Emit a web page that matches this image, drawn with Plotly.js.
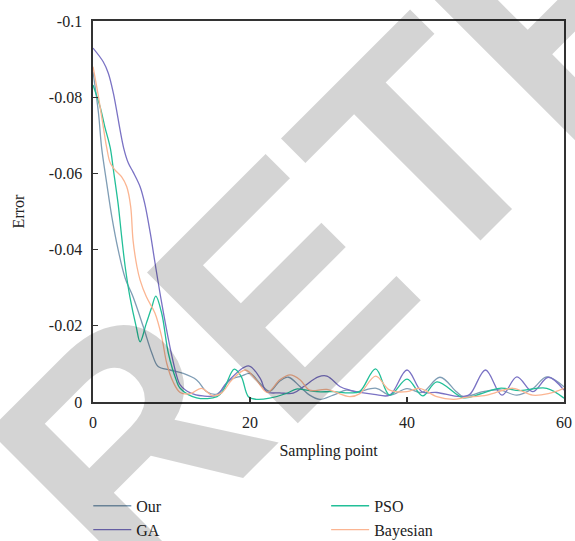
<!DOCTYPE html>
<html>
<head>
<meta charset="utf-8">
<script src="https://cdn.plot.ly/plotly-3.0.1.min.js"></script>
<style>html,body{margin:0;padding:0;background:#fff}#chart{width:575px;height:541px}</style>
</head>
<body>
<div id="chart"></div>
<script>
// Our
const ourX = [0, 0.7, 1.1, 1.75, 2.4, 3.2, 4.1, 5.1, 6.4, 7.5, 8.3, 9.8, 11.5, 13.2, 14.5, 15.8, 17.5, 18.9, 20, 21.3, 22.5, 23.8, 24.9, 26.4, 27.6, 28.9, 30.6, 32.3, 33.6, 36.1, 37.8, 40, 41.9, 44.2, 46.3, 47.2, 49.7, 51.8, 54, 56, 57.8, 60];
const ourY = [-0.0867, -0.0758, -0.0667, -0.0574, -0.0486, -0.040, -0.0325, -0.0276, -0.0198, -0.0128, -0.0093, -0.0084, -0.0075, -0.0058, -0.0027, -0.0021, -0.0058, -0.0068, -0.0075, -0.0048, -0.0028, -0.0055, -0.0065, -0.0040, -0.0018, -0.0007, -0.0018, -0.0031, -0.0027, -0.0036, -0.0018, -0.0035, -0.0025, -0.0065, -0.0027, -0.0014, -0.0027, -0.0032, -0.0018, -0.0035, -0.0066, -0.0040];
// GA
const gaX = [0, 1.3, 1.95, 2.6, 3.9, 4.5, 5.1, 6.0, 6.6, 7.3, 7.9, 8.75, 9.8, 10.7, 11.1, 12.4, 14, 15.8, 17, 19.8, 21.3, 22.1, 23.8, 25.5, 26.8, 28.7, 29.8, 31.5, 32.7, 34, 35.8, 37.8, 40, 41.9, 43.8, 46.8, 48, 50, 52.1, 54, 56, 58, 60];
const gaY = [-0.0929, -0.0893, -0.0863, -0.0810, -0.0667, -0.0627, -0.0604, -0.0565, -0.0520, -0.0443, -0.0365, -0.0260, -0.0145, -0.0066, -0.0045, -0.0024, -0.0016, -0.0018, -0.0050, -0.0095, -0.0062, -0.0027, -0.0024, -0.0023, -0.0040, -0.0066, -0.0068, -0.0040, -0.0031, -0.0025, -0.0020, -0.0018, -0.0084, -0.0027, -0.0025, -0.0014, -0.0020, -0.0084, -0.0018, -0.0066, -0.0027, -0.0065, -0.0031];
// PSO
const psoX = [0, 0.9, 1.5, 2.2, 2.6, 3.2, 3.65, 4.1, 4.7, 5.5, 6.0, 6.8, 7.5, 8.0, 8.75, 9.6, 10.6, 11.1, 13.2, 15.8, 16.6, 18, 18.9, 19.8, 20.8, 22.5, 24.7, 25.9, 27.2, 28.5, 30.6, 32.7, 34, 36, 37.8, 40, 42, 43.8, 47.2, 49.3, 51.8, 54.4, 57.8, 60];
const psoY = [-0.0832, -0.0775, -0.0723, -0.0667, -0.0609, -0.0520, -0.0434, -0.0355, -0.0276, -0.0198, -0.0158, -0.0207, -0.0250, -0.0278, -0.0233, -0.0128, -0.0058, -0.0036, -0.0011, -0.0014, -0.0031, -0.0086, -0.0066, -0.0014, -0.0007, -0.0010, -0.0023, -0.0034, -0.0031, -0.0027, -0.0027, -0.0024, -0.0028, -0.0087, -0.0018, -0.0060, -0.0016, -0.0053, -0.0011, -0.0021, -0.0036, -0.0030, -0.0036, -0.0010];
// Bayesian
const bayX = [0, 0.7, 1.3, 1.75, 2.2, 2.8, 3.65, 4.3, 4.8, 5.1, 5.6, 6.0, 6.8, 7.9, 8.75, 9.4, 10.2, 11.1, 12.4, 13.8, 15.3, 16.4, 17.7, 19.4, 20.8, 22.2, 23.8, 25.1, 26.4, 27.6, 29.8, 32.7, 34, 36, 37.8, 40, 41.6, 43.8, 45.9, 47.5, 50.2, 53.5, 56, 58, 60];
const bayY = [-0.0880, -0.0801, -0.0723, -0.0667, -0.0627, -0.0609, -0.0591, -0.0565, -0.0513, -0.0425, -0.0355, -0.0320, -0.0276, -0.0233, -0.0171, -0.0101, -0.0053, -0.0025, -0.0022, -0.0036, -0.0016, -0.0024, -0.0058, -0.0084, -0.0058, -0.0025, -0.0058, -0.0071, -0.0058, -0.0031, -0.0033, -0.0014, -0.0022, -0.0068, -0.0031, -0.0027, -0.0036, -0.0014, -0.0007, -0.0012, -0.0018, -0.0036, -0.0018, -0.0022, -0.0036];

const yTickVals = [0, -0.02, -0.04, -0.06, -0.08, -0.1];
const yTickText = ['0', '-0.02', '-0.04', '-0.06', '-0.08', '-0.1'];
const xTickVals = [0, 20, 40, 60];
const watermark = 'RETRACTED';

const FONT = 'Liberation Serif, Times New Roman, serif';
function tr(name, x, y, color, legend) {
  return {x: x, y: y, name: name, type: 'scatter', mode: 'lines',
    line: {color: color, width: 1.3, shape: 'spline', smoothing: 1}, legend: legend};
}
const data = [
  tr('Our', ourX, ourY, '#7f9db5', 'legend'),
  tr('GA', gaX, gaY, '#7a72c4', 'legend'),
  tr('PSO', psoX, psoY, '#22bf98', 'legend2'),
  tr('Bayesian', bayX, bayY, '#fbb592', 'legend2')
];
const axisCommon = {showline: true, linecolor: '#333', linewidth: 1.6, mirror: true,
  ticks: 'inside', ticklen: 5, tickwidth: 1.3, tickcolor: '#333', showgrid: false, zeroline: false,
  tickfont: {family: FONT, size: 16, color: '#222'}};
const legendCommon = {yanchor: 'top', xanchor: 'left', orientation: 'v', y: -0.228, itemwidth: 38,
  font: {family: FONT, size: 16, color: '#222'}, bgcolor: 'rgba(0,0,0,0)', tracegroupgap: 0};
const layout = {
  width: 575, height: 541,
  margin: {l: 93, r: 11, t: 21, b: 139, autoexpand: false},
  paper_bgcolor: '#fff', plot_bgcolor: 'rgba(0,0,0,0)',
  font: {family: FONT, size: 16, color: '#222'},
  showlegend: true,
  xaxis: Object.assign({}, axisCommon, {range: [0, 60], tickvals: xTickVals, ticklabelstandoff: 5,
    title: {text: 'Sampling point', font: {family: FONT, size: 16, color: '#222'}, standoff: 15}}),
  yaxis: Object.assign({}, axisCommon, {range: [0, -0.1], tickvals: yTickVals, ticktext: yTickText, ticklabelstandoff: 6,
    title: {text: 'Error', font: {family: FONT, size: 16, color: '#222'}, standoff: 20}}),
  legend: Object.assign({}, legendCommon, {x: -0.01}),
  legend2: Object.assign({}, legendCommon, {x: 0.495}),
  annotations: [{
    text: watermark, xref: 'paper', yref: 'paper', x: 1.341, y: 1.463,
    xanchor: 'center', yanchor: 'middle', showarrow: false, textangle: -45,
    font: {family: 'Liberation Sans, Arial, sans-serif', size: 310, weight: 'bold', color: 'rgba(0,0,0,0.17)'}
  }]
};
Plotly.newPlot('chart', data, layout, {displayModeBar: false, staticPlot: true});
</script>
</body>
</html>
